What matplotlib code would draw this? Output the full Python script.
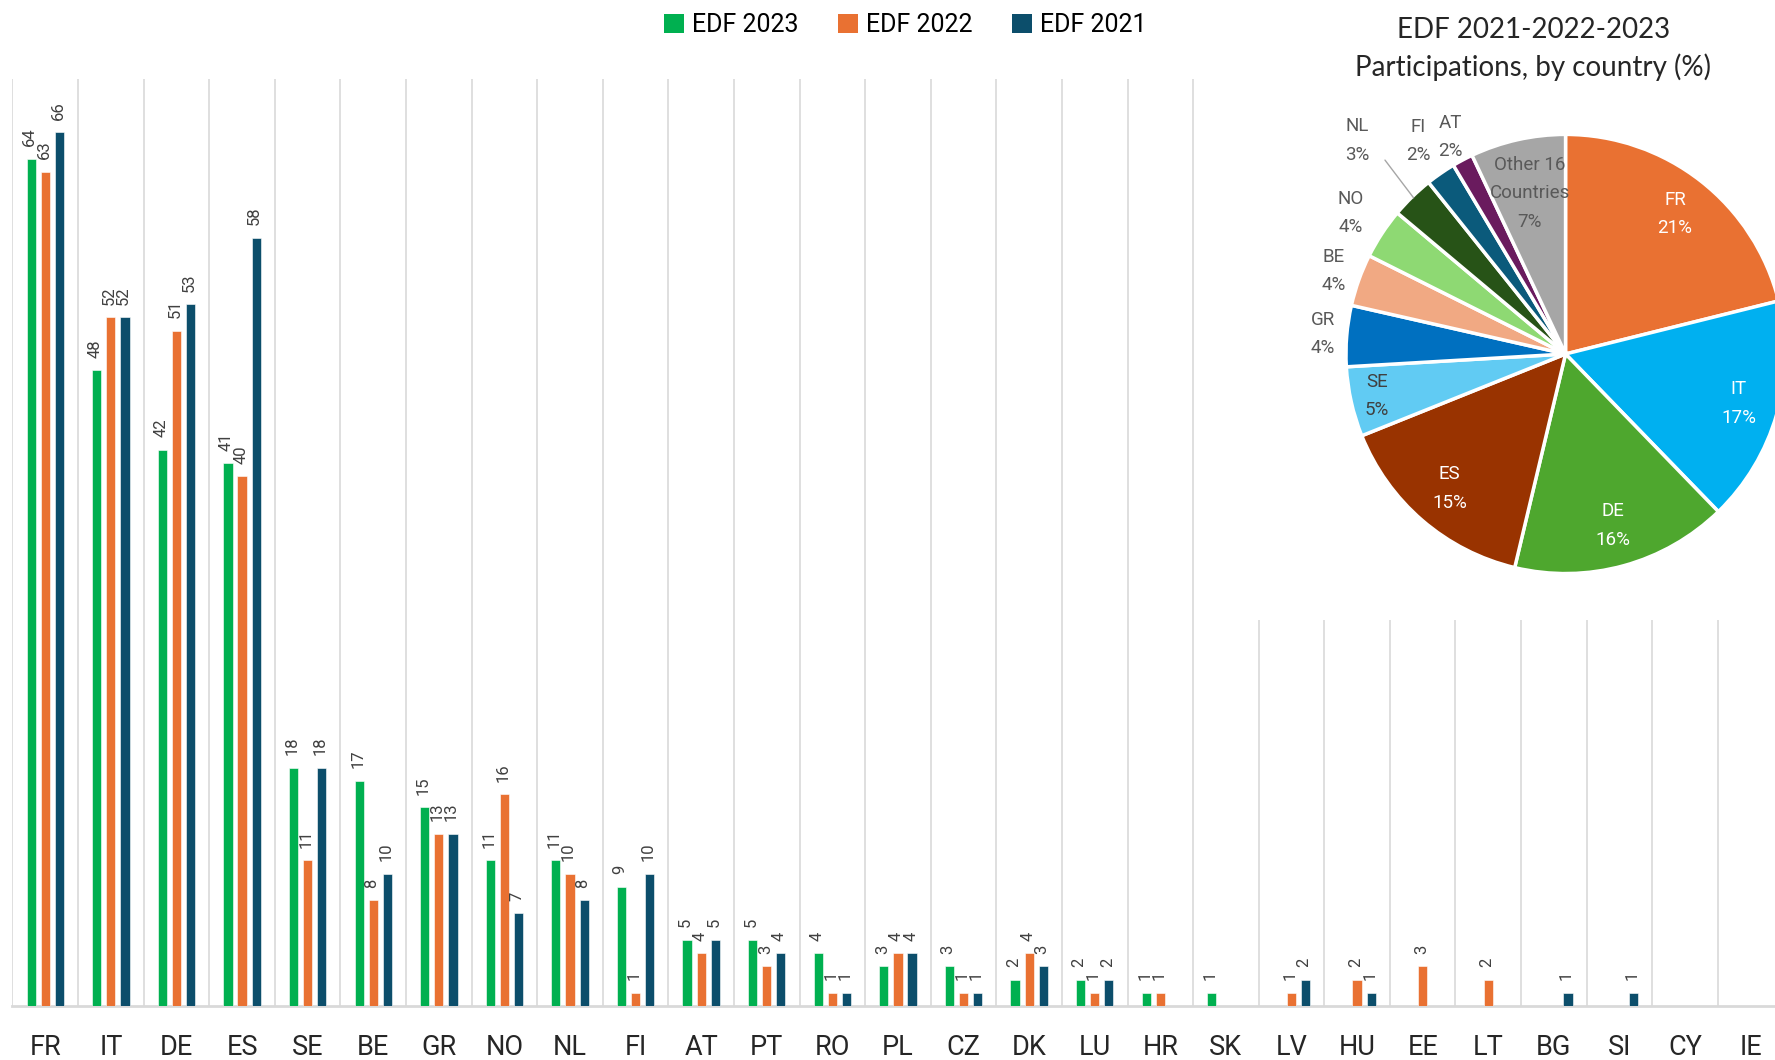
import matplotlib.pyplot as plt
import numpy as np
from matplotlib.patches import Patch, Rectangle

# bar data: participations per country
countries = ['FR', 'IT', 'DE', 'ES', 'SE', 'BE', 'GR', 'NO', 'NL', 'FI', 'AT', 'PT', 'RO', 'PL',
             'CZ', 'DK', 'LU', 'HR', 'SK', 'LV', 'HU', 'EE', 'LT', 'BG', 'SI', 'CY', 'IE']
edf_2023 = [64, 48, 42, 41, 18, 17, 15, 11, 11, 9, 5, 5, 4, 3, 3, 2, 2, 1, 1, 0, 0, 0, 0, 0, 0, 0, 0]
edf_2022 = [63, 52, 51, 40, 11, 8, 13, 16, 10, 1, 4, 3, 1, 4, 1, 4, 1, 1, 0, 1, 2, 3, 2, 0, 0, 0, 0]
edf_2021 = [66, 52, 53, 58, 18, 10, 13, 7, 8, 10, 5, 4, 1, 4, 1, 3, 2, 0, 0, 2, 1, 0, 0, 1, 1, 0, 0]

series_names = ['EDF 2023', 'EDF 2022', 'EDF 2021']
series_colors = ['#00B050', '#E97132', '#0C4E6B']

# pie data: total participations 2021-2023
pie_labels = ['FR', 'IT', 'DE', 'ES', 'SE', 'GR', 'BE', 'NO', 'NL', 'FI', 'AT', 'Other 16\nCountries']
pie_counts = [193, 152, 146, 139, 47, 41, 35, 34, 29, 20, 14, 64]
pie_colors = ['#E97132', '#00B0F0', '#4EA72E', '#993300', '#61CBF3', '#0070C0',
              '#F1A983', '#8ED973', '#275317', '#0B5A7B', '#6A1B5E', '#A6A6A6']
label_dist = [0.81, 0.82, 0.81, 0.81, 0.88, 1.11, 1.12, 1.17, 1.36, 1.18, 1.12, 0.75]
label_colors = ['white', 'white', 'white', 'white', '#404040', '#595959', '#595959',
                '#595959', '#595959', '#595959', '#595959', '#595959']

FONT = ['Roboto', 'DejaVu Sans']

fig = plt.figure(figsize=(17.75, 10.6), dpi=100)
ax = fig.add_axes([0.00704, 0.0509, 0.9977, 0.8745])

x = np.arange(len(countries))
offsets = [-0.215, 0, 0.215]
for vals, off, col, name in zip([edf_2023, edf_2022, edf_2021], offsets, series_colors, series_names):
    bars = ax.bar(x + off, vals, width=0.14, color=col, edgecolor='white', linewidth=0.4,
                  label=name, zorder=3)
    for b, v in zip(bars, vals):
        if v > 0:
            ax.annotate(str(v), (b.get_x() + b.get_width() / 2, v), xytext=(-1, 9),
                        textcoords='offset points', rotation=90, ha='center', va='bottom',
                        fontsize=12, color='#404040', family=FONT)

ax.set_xlim(-0.5, len(countries) - 0.5)
ax.set_ylim(0, 70)
ax.set_xticks(x)
ax.set_xticklabels(countries, fontsize=19.5, family=FONT, color='#262626')
ax.tick_params(axis='x', length=0, pad=20)
ax.set_yticks([])
ax.set_xticks(np.arange(-0.5, len(countries)), minor=True)
ax.tick_params(axis='x', which='minor', length=0)
ax.grid(which='minor', axis='x', color='#D9D9D9', linewidth=1.2, zorder=0)
for s in ['top', 'right', 'left']:
    ax.spines[s].set_visible(False)
ax.spines['bottom'].set_color('#D9D9D9')
ax.spines['bottom'].set_linewidth(2)

handles = [Patch(facecolor=c, label=n) for c, n in zip(series_colors, series_names)]
fig.legend(handles=handles, loc='center', bbox_to_anchor=(0.51, 0.976), ncol=3, frameon=False,
           prop={'family': FONT, 'size': 18}, handlelength=0.8, handleheight=0.8,
           handletextpad=0.3, columnspacing=1.6)

# white box behind the pie
fig.add_artist(Rectangle((0.69, 0.415), 0.32, 0.6, transform=fig.transFigure,
                         facecolor='white', edgecolor='none', zorder=1))

pax = fig.add_axes([0.7583, 0.4589, 0.2474, 0.4143])
pax.set_zorder(2)
pax.set_facecolor('none')
wedges, _ = pax.pie(pie_counts, colors=pie_colors, startangle=90, counterclock=False,
                    wedgeprops={'edgecolor': 'white', 'linewidth': 2.5})
pax.set_xlim(-1, 1)
pax.set_ylim(-1, 1)
pax.axis('off')

total = sum(pie_counts)
cum = 0
for lab, cnt, d, tc in zip(pie_labels, pie_counts, label_dist, label_colors):
    mid = np.deg2rad(90 - (cum + cnt / 2) / total * 360)
    cum += cnt
    pct = round(cnt / total * 100)
    tx, ty = d * np.cos(mid), d * np.sin(mid)
    pax.text(tx, ty, f'{lab}\n{pct}%', ha='center', va='center', fontsize=13.5,
             color=tc, family=FONT, linespacing=1.75, clip_on=False)
    if lab == 'NL':
        pax.annotate('', xy=(0.98 * np.cos(mid), 0.98 * np.sin(mid)), xytext=(tx + 0.12, ty - 0.08),
                     arrowprops=dict(arrowstyle='-', color='#A6A6A6', lw=1))

fig.text(0.8637, 0.972, 'EDF 2021-2022-2023', ha='center', va='center', fontsize=20,
         family='Lato', color='#262626')
fig.text(0.8637, 0.937, 'Participations, by country (%)', ha='center', va='center', fontsize=20,
         family='Lato', color='#262626')

fig.savefig('out.png', dpi=100)
